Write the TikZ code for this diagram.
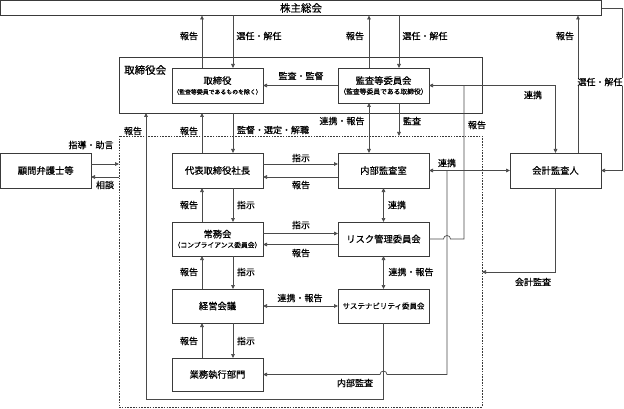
\documentclass[tikz,border=0pt]{standalone}
\usepackage{fontspec}
\setmainfont{Noto Sans CJK JP}[FakeBold=0.5]
\usetikzlibrary{arrows.meta,shadows,calc}
\definecolor{bx}{HTML}{3A3A3A}
\definecolor{lc}{HTML}{4A4A4A}
\begin{document}
\begin{tikzpicture}[x=1pt,y=-1pt,
  box/.style={draw=bx, line width=0.7pt, fill=white, inner sep=0pt, outer sep=0pt, align=center,
    font=\fontsize{9.3}{11}\selectfont, text=black,
    drop shadow={shadow xshift=0.9pt,shadow yshift=-0.9pt,fill=black!55,opacity=0.6}},
  grpbox/.style={draw=bx, line width=0.6pt, dash pattern=on 1.6pt off 1.2pt, inner sep=0pt, outer sep=0pt},
  lbl/.style={inner sep=0pt, font=\fontsize{9}{10}\selectfont, text=black},
  ln/.style={draw=lc, line width=0.7pt},
  arr/.style={ln, -{Triangle[length=4pt,width=3.6pt]}},
  arrb/.style={ln, {Triangle[length=4pt,width=3.6pt]}-{Triangle[length=4pt,width=3.6pt]}}]
\useasboundingbox (0,0) rectangle (624,409);
\fill[white] (0,0) rectangle (624,409);

% column / row helpers
\coordinate (cA) at (146,0);
\coordinate (cB) at (202,0);
\coordinate (cC) at (233,0);
\coordinate (cD) at (369,0);
\coordinate (cE) at (399,0);
\coordinate (cF) at (383.5,0);
\coordinate (cG) at (447,0);
\coordinate (cH) at (464,0);
\coordinate (cJ) at (578,0);
\coordinate (cK) at (622,0);
\coordinate (r164) at (0,164);
\coordinate (r177) at (0,177);
\coordinate (r233) at (0,233.5);
\coordinate (r244) at (0,244.5);
\coordinate (r272) at (0,272);
\coordinate (r399) at (0,399);

% containers
\node[box, minimum width=363pt, minimum height=56pt] (board) at (300.5,85) {};
\node[lbl, font=\fontsize{10.5}{12}\selectfont, anchor=west] (boardlbl) at (124,70) {取締役会};
\node[grpbox, minimum width=363pt, minimum height=271pt] (grp) at (300.5,271.5) {};

% boxes
\node[box, minimum width=601pt, minimum height=15pt, font=\fontsize{10.5}{12}\selectfont] (kabu) at (301,8) {株主総会};
\node[box, minimum width=91pt, minimum height=35pt] (tori) at (217.5,85.5)
  {取締役\\[-1pt]{\fontsize{5.9}{7}\selectfont （監査等委員であるものを除く）}};
\node[box, minimum width=91pt, minimum height=35pt] (kansa) at (383.5,85.5)
  {監査等委員会\\[-1pt]{\fontsize{6.8}{8}\selectfont （監査等委員である取締役）}};
\node[box, minimum width=90.5pt, minimum height=35pt] (komon) at (45.75,170.5) {顧問弁護士等};
\node[box, minimum width=91pt, minimum height=35pt] (ceo) at (217.5,170.5) {代表取締役社長};
\node[box, minimum width=91pt, minimum height=35pt] (naibu) at (383.5,170.5) {内部監査室};
\node[box, minimum width=91pt, minimum height=35pt] (kaikei) at (555.5,170.5) {会計監査人};
\node[box, minimum width=91pt, minimum height=34pt] (jomu) at (217.5,239)
  {常務会\\[-1pt]{\fontsize{6.8}{8}\selectfont （コンプライアンス委員会）}};
\node[box, minimum width=91pt, minimum height=34pt] (risk) at (383.5,239) {リスク管理委員会};
\node[box, minimum width=91pt, minimum height=34pt] (keiei) at (217.5,306) {経営会議};
\node[box, minimum width=91pt, minimum height=34pt, font=\fontsize{7.5}{9}\selectfont] (sus) at (383.5,306) {サステナビリティ委員会};
\node[box, minimum width=91pt, minimum height=33pt] (gyomu) at (217.5,374.5) {業務執行部門};

% shareholders meeting
\draw[arr] (tori.north -| cB) -- (kabu.south -| cB);
\draw[arr] (kabu.south -| cC) -- (tori.north -| cC);
\draw[arr] (kansa.north -| cD) -- (kabu.south -| cD);
\draw[arr] (kabu.south -| cE) -- (kansa.north -| cE);
\draw[arr] (kaikei.north -| cJ) -- (kabu.south -| cJ);
\draw[arr] (kabu.east) -- (kabu.east -| cK) |- (kaikei.east);

% board level
\draw[arr] (kansa.west) -- (tori.east);
\draw[arrb] (kansa.east) -| (kaikei.north);
\draw[ln] (risk.east) -- ($(risk.east -| cG)+(-3.5,0)$) arc[start angle=180,end angle=0,radius=3.5pt]
  -- (risk.east -| cH) -- (kansa.east -| cH);
\draw[arr] (ceo.north -| cB) -- (board.south -| cB);
\draw[arr] (board.south -| cC) -- (ceo.north -| cC);
\draw[arrb] (kansa.south -| cD) -- (naibu.north -| cD);
\draw[arr] (kansa.south -| cE) -- (grp.north -| cE);
\draw[arr] (sus.south) -- (sus.south |- r399) -| (board.south -| cA);

% advisor
\draw[arr] (komon.east |- r164) -- (grp.west |- r164);
\draw[arr] (grp.west |- r177) -- (komon.east |- r177);

% executive rows
\draw[arr] (ceo.east |- r164) -- (naibu.west |- r164);
\draw[arr] (naibu.west |- r177) -- (ceo.east |- r177);
\draw[arr] (jomu.north -| cB) -- (ceo.south -| cB);
\draw[arr] (ceo.south -| cC) -- (jomu.north -| cC);
\draw[arrb] (naibu.south) -- (risk.north);
\draw[arr] (jomu.east |- r233) -- (risk.west |- r233);
\draw[arr] (risk.west |- r244) -- (jomu.east |- r244);
\draw[arr] (keiei.north -| cB) -- (jomu.south -| cB);
\draw[arr] (jomu.south -| cC) -- (keiei.north -| cC);
\draw[arrb] (risk.south) -- (sus.north);
\draw[arrb] (keiei.east) -- (sus.west);
\draw[arr] (gyomu.north -| cB) -- (keiei.south -| cB);
\draw[arr] (keiei.south -| cC) -- (gyomu.north -| cC);

% auditors
\draw[arrb] (naibu.east) -- (kaikei.west);
\draw[arr] (naibu.east -| cG) -- (cG |- gyomu.east) -- ($(cF |- gyomu.east)+(3.5,0)$)
  arc[start angle=0,end angle=180,radius=3.5pt] -- (gyomu.east);
\draw[arr] (kaikei.south) |- (grp.east |- r272);

% labels
\node[lbl] (t1) at (189,36) {報告};
\node[lbl] (t2) at (259,36) {選任・解任};
\node[lbl] (t3) at (355,36) {報告};
\node[lbl] (t4) at (425,36) {選任・解任};
\node[lbl] (t5) at (565,36) {報告};
\node[lbl, fill=white] (t6) at (600,82) {選任・解任};
\node[lbl] (t7) at (301,76) {監査・監督};
\node[lbl] (t8) at (533,95) {連携};
\node[lbl] (t9) at (477,125) {報告};
\node[lbl] (t10) at (342,121) {連携・報告};
\node[lbl] (t11) at (412,121) {監査};
\node[lbl] (t12) at (133,131) {報告};
\node[lbl] (t13) at (189,131) {報告};
\node[lbl] (t14) at (273,130) {監督・選定・解職};
\node[lbl] (t15) at (91,145) {指導・助言};
\node[lbl] (t16) at (105,185) {相談};
\node[lbl] (t17) at (301,158) {指示};
\node[lbl] (t18) at (301,185) {報告};
\node[lbl] (t19) at (447,163) {連携};
\node[lbl] (t20) at (189,205) {報告};
\node[lbl] (t21) at (246,205) {指示};
\node[lbl] (t22) at (397,205) {連携};
\node[lbl] (t23) at (301,225) {指示};
\node[lbl] (t24) at (301,253) {報告};
\node[lbl] (t25) at (189,272) {報告};
\node[lbl] (t26) at (246,272) {指示};
\node[lbl] (t27) at (411,272) {連携・報告};
\node[lbl] (t28) at (533,282) {会計監査};
\node[lbl] (t29) at (300,298) {連携・報告};
\node[lbl] (t30) at (189,341) {報告};
\node[lbl] (t31) at (246,341) {指示};
\node[lbl] (t32) at (355,383) {内部監査};
\end{tikzpicture}
\end{document}
